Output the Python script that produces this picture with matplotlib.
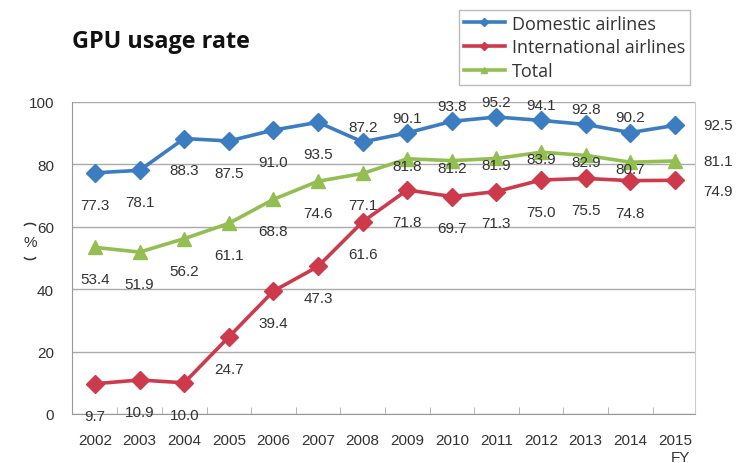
import matplotlib
matplotlib.use("Agg")
import matplotlib.pyplot as plt
from matplotlib import font_manager as fm
from matplotlib.patches import Arc
from matplotlib.transforms import IdentityTransform

years = ["2002", "2003", "2004", "2005", "2006", "2007", "2008",
         "2009", "2010", "2011", "2012", "2013", "2014", "2015"]
domestic = [77.3, 78.1, 88.3, 87.5, 91.0, 93.5, 87.2, 90.1, 93.8, 95.2, 94.1, 92.8, 90.2, 92.5]
international = [9.7, 10.9, 10.0, 24.7, 39.4, 47.3, 61.6, 71.8, 69.7, 71.3, 75.0, 75.5, 74.8, 74.9]
total = [53.4, 51.9, 56.2, 61.1, 68.8, 74.6, 77.1, 81.8, 81.2, 81.9, 83.9, 82.9, 80.7, 81.1]

# label placement: b=below, a=above, c=on line, r=right
dom_pos = ["b", "b", "b", "b", "b", "b", "a", "a", "a", "a", "a", "a", "a", "r"]
int_pos = ["b"] * 13 + ["r"]
tot_pos = ["b", "b", "b", "b", "b", "b", "b", "c", "c", "c", "c", "c", "c", "r"]

names = {f.name for f in fm.fontManager.ttflist}
num_font = "Liberation Sans Narrow" if "Liberation Sans Narrow" in names else "Liberation Sans"

W, H = 750, 464
fig = plt.figure(figsize=(W / 100, H / 100), dpi=100)
ax = fig.add_axes([72/W, 1-415/H, (695-72)/W, (415-103)/H])

x = list(range(len(years)))
blue, red, green = "#3b7dc0", "#cc3a4c", "#93bf52"

ax.plot(x, domestic, color=blue, lw=2.6, marker="D", ms=9, label="Domestic airlines", zorder=4)
ax.plot(x, international, color=red, lw=2.6, marker="D", ms=9, label="International airlines", zorder=4)
ax.plot(x, total, color=green, lw=2.6, marker="^", ms=10, label="Total", zorder=3)

offs = {"b": (0, -23), "a": (0, 11), "c": (0, -5), "r": (31, 0)}
fsz = 12 if num_font.endswith("Narrow") else 11
for vals, pos in ((domestic, dom_pos), (international, int_pos), (total, tot_pos)):
    for i, (v, p) in enumerate(zip(vals, pos)):
        dx, dy = offs[p]
        if p == "r" and vals is international:
            dy = -8
        ax.annotate(f"{v:.1f}", (i, v), xytext=(dx, dy), textcoords="offset points",
                    ha="center", va="center", fontsize=fsz, family=num_font,
                    color="#333333", zorder=6, annotation_clip=False)

ax.set_xlim(-0.516, 13.45)
ax.set_ylim(0, 100)
ax.set_yticks([0, 20, 40, 60, 80, 100])
ax.set_xticks(x)
ax.set_xticklabels(years)
ax.set_xticks([i + 0.5 for i in range(13)], minor=True)
ax.tick_params(axis="x", which="major", length=0, pad=14, labelsize=11, labelcolor="#333333")
ax.tick_params(axis="x", which="minor", direction="in", length=5, color="#aaaaaa")
ax.tick_params(axis="y", length=0, pad=13, labelsize=11, labelcolor="#333333")
for lab in ax.get_xticklabels() + ax.get_yticklabels():
    lab.set_family(num_font)
    lab.set_fontsize(fsz)

ax.grid(axis="y", color="#aaaaaa", lw=1)
ax.set_axisbelow(True)
for s in ("left", "bottom"):
    ax.spines[s].set_color("#999999")
ax.spines["right"].set_color("#cccccc")
ax.spines["top"].set_visible(False)

leg = fig.legend(loc="upper left", bbox_to_anchor=(459/W, 1-11/H), frameon=True,
                 fancybox=False, edgecolor="#aaaaaa", prop={"family": "Open Sans", "size": 13},
                 handlelength=2.3, handletextpad=0.4, labelspacing=0.33, borderpad=0.25,
                 borderaxespad=0, markerscale=0.45)
leg.get_frame().set_linewidth(1)
for t in leg.get_texts():
    t.set_color("#333333")

fig.text(72/W, 1-42/H, "GPU usage rate", fontsize=16.8, fontweight="bold",
         family="Open Sans", va="center", ha="left", color="#111111")

# vertical "(%)" as in Japanese vertical writing
fig.add_artist(Arc((30, H - 229), 14, 9, theta1=20, theta2=160, transform=IdentityTransform(),
                   color="#333333", lw=1.1))
fig.text(30/W, 1-243/H, "%", family=num_font, fontsize=fsz, ha="center", va="center", color="#333333")
fig.add_artist(Arc((30, H - 256), 14, 9, theta1=200, theta2=340, transform=IdentityTransform(),
                   color="#333333", lw=1.1))
fig.text(680/W, 1-458/H, "FY", family=num_font, fontsize=fsz, ha="center", va="center", color="#333333")

fig.savefig("out.png", dpi=100)
